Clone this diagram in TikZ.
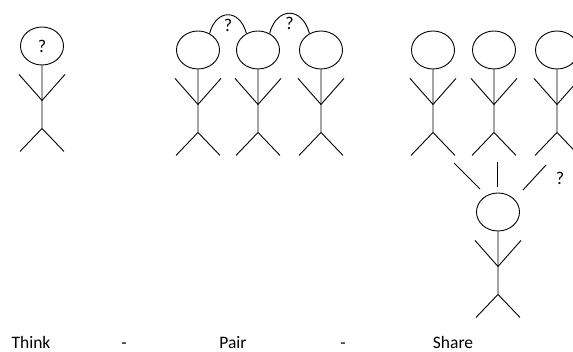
\documentclass[tikz,border=0pt]{standalone}
\usepackage{fontspec}
\setmainfont{Carlito}
\usetikzlibrary{shapes.geometric}

\begin{document}
\begin{tikzpicture}[x=1pt, y=-1pt, line width=0.9pt,
    head/.style = {draw, ellipse, minimum width=43pt, minimum height=38pt, inner sep=0pt, font=\fontsize{18}{18}\selectfont},
    ask/.style = {inner sep=1pt, font=\fontsize{18}{18}\selectfont},
    word/.style = {anchor=base, inner sep=0pt, font=\fontsize{17.5}{17.5}\selectfont} ]
    \useasboundingbox (0,0) rectangle (573,352);

    % heads
    \node at (42, 46) [head] (t1) {?};
    \node at (198, 50) [head] (p1) {};
    \node at (258, 50) [head] (p2) {};
    \node at (321, 50) [head] (p3) {};
    \node at (433, 50) [head] (s1) {};
    \node at (494, 50) [head] (s2) {};
    \node at (557, 50) [head] (s3) {};
    \node at (498, 212) [head] (s4) {};

    % bodies, arms and legs
    \foreach \n in {t1, p1, p2, p3, s1, s2, s3, s4} {
        \draw (\n.south) -- ++(0,63) -- ++(-22,23) ++(22,-23) -- ++(22,23);
        \draw ([shift={(-23,9)}]\n.south) -- ([shift={(0,35)}]\n.south) -- ([shift={(23,9)}]\n.south);
    }

    % pair
    \draw (p1.55) to[out=75, in=105, looseness=1.8] node[ask, anchor=north, yshift=-3pt] (q1) {?} (p2.125);
    \draw (p2.55) to[out=75, in=105, looseness=1.8] node[ask, anchor=north, yshift=-3pt] (q2) {?} (p3.125);

    % share
    \coordinate (l1) at (454, 163);
    \coordinate (l2) at (480, 189);
    \coordinate (m1) at (497, 162);
    \coordinate (m2) at (497, 187);
    \coordinate (r1) at (546, 165);
    \coordinate (r2) at (523, 190);
    \draw (l1) -- (l2);
    \draw (m1) -- (m2);
    \draw (r1) -- (r2);
    \node at (560, 178) [ask] (q3) {?};

    \node at (31, 349) [word] (think) {Think};
    \node at (124, 349) [word] (d1) {-};
    \node at (233, 349) [word] (pair) {Pair};
    \node at (343, 349) [word] (d2) {-};
    \node at (453, 349) [word] (share) {Share};
\end{tikzpicture}
\end{document}
